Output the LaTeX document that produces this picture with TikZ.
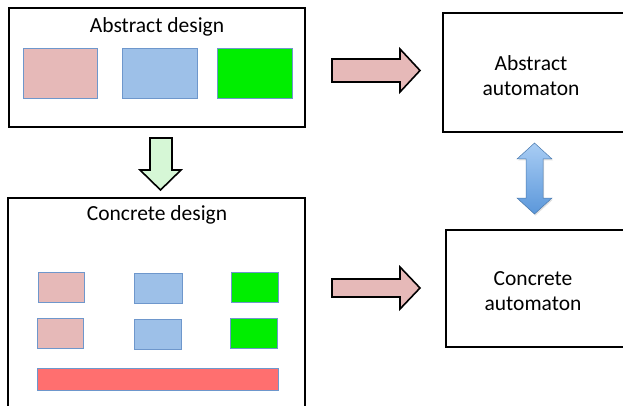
\documentclass[tikz,border=0pt]{standalone}
\usepackage{fontspec}
\setmainfont{Carlito}
\usetikzlibrary{shadows}
\definecolor{pinkfill}{HTML}{E6B9B8}
\definecolor{bluefill}{HTML}{9DC0E8}
\definecolor{greenfill}{HTML}{00EE00}
\definecolor{redfill}{HTML}{FF6F6F}
\definecolor{edgeblue}{HTML}{6E97CC}
\definecolor{lightgreen}{HTML}{D6F7D6}
\definecolor{arrowtop}{HTML}{A9CDF4}
\definecolor{arrowbot}{HTML}{5B97DA}
\tikzset{
  panel/.style={draw=black, line width=2pt, fill=white},
  piece/.style={draw=edgeblue, line width=0.6pt,
    drop shadow={opacity=0.25, shadow xshift=1pt, shadow yshift=-1.2pt}},
  label/.style={font=\fontsize{21.5}{25}\selectfont, align=center},
  blockarrow/.style={draw=black, line width=1.6pt, line join=miter}
}
\begin{document}
\begin{tikzpicture}[x=1pt, y=-1pt]
  \useasboundingbox (0,0) rectangle (623,406);
  \clip (0,0) rectangle (623,406);

  % Abstract design panel and its three blocks
  \draw[panel] (9,8) rectangle (305,127);
  \node[label] (absdesign) at (157,27) {Abstract design};
  \draw[piece, fill=pinkfill]  (23,48)  rectangle (97,98);
  \draw[piece, fill=bluefill]  (122,48) rectangle (197,98);
  \draw[piece, fill=greenfill] (217,48) rectangle (292,98);

  % Concrete design panel and its blocks
  \draw[panel] (8,198) rectangle (305,420);
  \node[label] (condesign) at (157,215) {Concrete design};
  \draw[piece, fill=pinkfill]  (38,272)  rectangle (84,302);
  \draw[piece, fill=bluefill]  (134,273) rectangle (182,303);
  \draw[piece, fill=greenfill] (231,272) rectangle (278,302);
  \draw[piece, fill=pinkfill]  (37,318)  rectangle (83,348);
  \draw[piece, fill=bluefill]  (134,319) rectangle (181,349);
  \draw[piece, fill=greenfill] (230,318) rectangle (277,348);
  \draw[piece, fill=redfill]   (37,368)  rectangle (278,390);

  % Automaton boxes on the right
  \draw[panel] (443,13) rectangle (630,132);
  \node[label] (absauto) at (531,76) {Abstract\\automaton};
  \draw[panel] (446,230) rectangle (630,347);
  \node[label] (conauto) at (533,291) {Concrete\\automaton};

  % Refinement arrow: abstract design down to concrete design
  \draw[blockarrow, fill=lightgreen]
    (150,138) -- (172,138) -- (172,170) -- (181,170) -- (160.5,190)
    -- (140,170) -- (150,170) -- cycle;

  % Translation arrows from designs to automata
  \draw[blockarrow, fill=pinkfill]
    (332,59) -- (400,59) -- (400,49) -- (420,70.5) -- (400,92)
    -- (400,82) -- (332,82) -- cycle;
  \draw[blockarrow, fill=pinkfill]
    (332,279) -- (400,279) -- (400,267) -- (420,288) -- (400,309)
    -- (400,297) -- (332,297) -- cycle;

  % Correspondence between the two automata
  \draw[draw=arrowbot!80!black, line width=0.5pt, top color=arrowtop, bottom color=arrowbot,
        drop shadow={opacity=0.25, shadow xshift=1pt, shadow yshift=-1.5pt}]
    (534.5,143) -- (552,159) -- (543,159) -- (543,198) -- (552,198)
    -- (534.5,214) -- (517,198) -- (526,198) -- (526,159) -- (517,159) -- cycle;
\end{tikzpicture}
\end{document}
